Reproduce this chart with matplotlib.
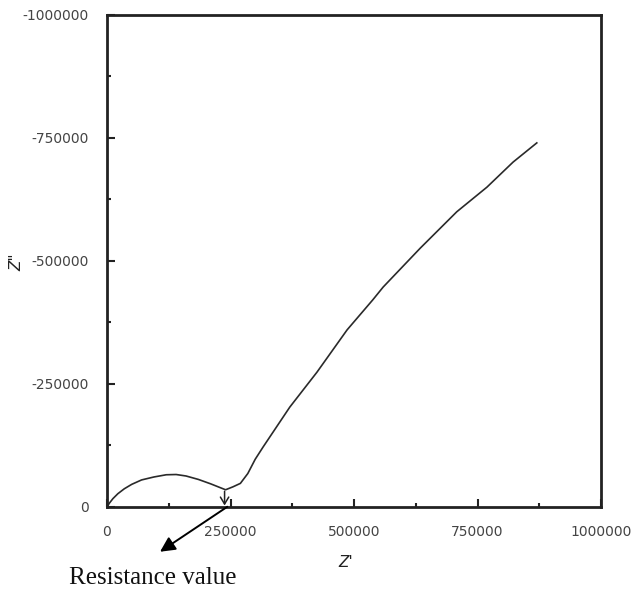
import matplotlib
matplotlib.use("Agg")
import matplotlib.pyplot as plt
from matplotlib.ticker import MultipleLocator, FuncFormatter

plt.rcParams['axes.unicode_minus'] = False

# Nyquist data (Z' real, Z'' imaginary, ohm)
z_real = [0, 5000, 12000, 22000, 35000, 50000, 70000, 95000, 120000, 140000,
          160000, 185000, 210000, 230000, 240000, 255000, 270000, 285000,
          300000, 316000, 370000, 425000, 486000, 538000, 559000,
          634000, 708000, 769000, 822000, 870000]
z_imag = [0, -8000, -17000, -27000, -37000, -46000, -55000, -61000, -65500, -66000,
          -63000, -56000, -47000, -39000, -35000, -41000, -48000, -68000,
          -97000, -122000, -203000, -274000, -360000, -421000, -447000,
          -526000, -600000, -650000, -701000, -740000]

x_ticks = [0, 250000, 500000, 750000, 1000000]
y_ticks = [0, -250000, -500000, -750000, -1000000]

fig = plt.figure(figsize=(6.35, 5.92), dpi=100)
ax = fig.add_axes([0.1685, 0.1436, 0.7780, 0.8311])

ax.plot(z_real, z_imag, color='#2a2a2a', lw=1.2)

ax.set_xlim(0, 1000000)
ax.set_ylim(0, -1000000)
ax.set_xticks(x_ticks)
ax.set_yticks(y_ticks)
ax.xaxis.set_minor_locator(MultipleLocator(125000))
ax.yaxis.set_minor_locator(MultipleLocator(125000))
fmt = FuncFormatter(lambda v, p: f"{int(round(v))}")
ax.xaxis.set_major_formatter(fmt)
ax.yaxis.set_major_formatter(fmt)

ax.tick_params(which='major', direction='in', length=6, width=1.5, color='#222222',
               labelsize=10, labelcolor='#444444', pad=13)
ax.tick_params(which='minor', direction='in', length=3, width=1.5, color='#222222')
ax.tick_params(top=False, right=False)
for s in ax.spines.values():
    s.set_linewidth(2)
    s.set_color('#222222')

fig.text(0.545, 0.049, "Z'", ha='center', va='center', fontsize=11,
         style='italic', color='#222222')
fig.text(0.026, 0.557, 'Z"', ha='center', va='center', fontsize=11,
         style='italic', rotation=90, color='#222222')

# small arrow at the end of the semicircle
ax.annotate('', xy=(238000, -3000), xytext=(238000, -32000),
            arrowprops=dict(arrowstyle='->,head_length=0.5,head_width=0.3',
                            color='#222222', lw=1.1, shrinkA=0, shrinkB=0))

# big arrow to text
ax.annotate('', xy=(0.252, 0.068), xycoords='figure fraction',
            xytext=(0.358, 0.144), textcoords='figure fraction',
            arrowprops=dict(arrowstyle='-|>,head_length=0.9,head_width=0.45',
                            color='black', lw=1.4, shrinkA=0, shrinkB=0))

fig.text(0.24, 0.024, 'Resistance value', ha='center', va='center',
         fontsize=18, family='Liberation Serif', color='#111111')

fig.savefig('out.png', dpi=100)
